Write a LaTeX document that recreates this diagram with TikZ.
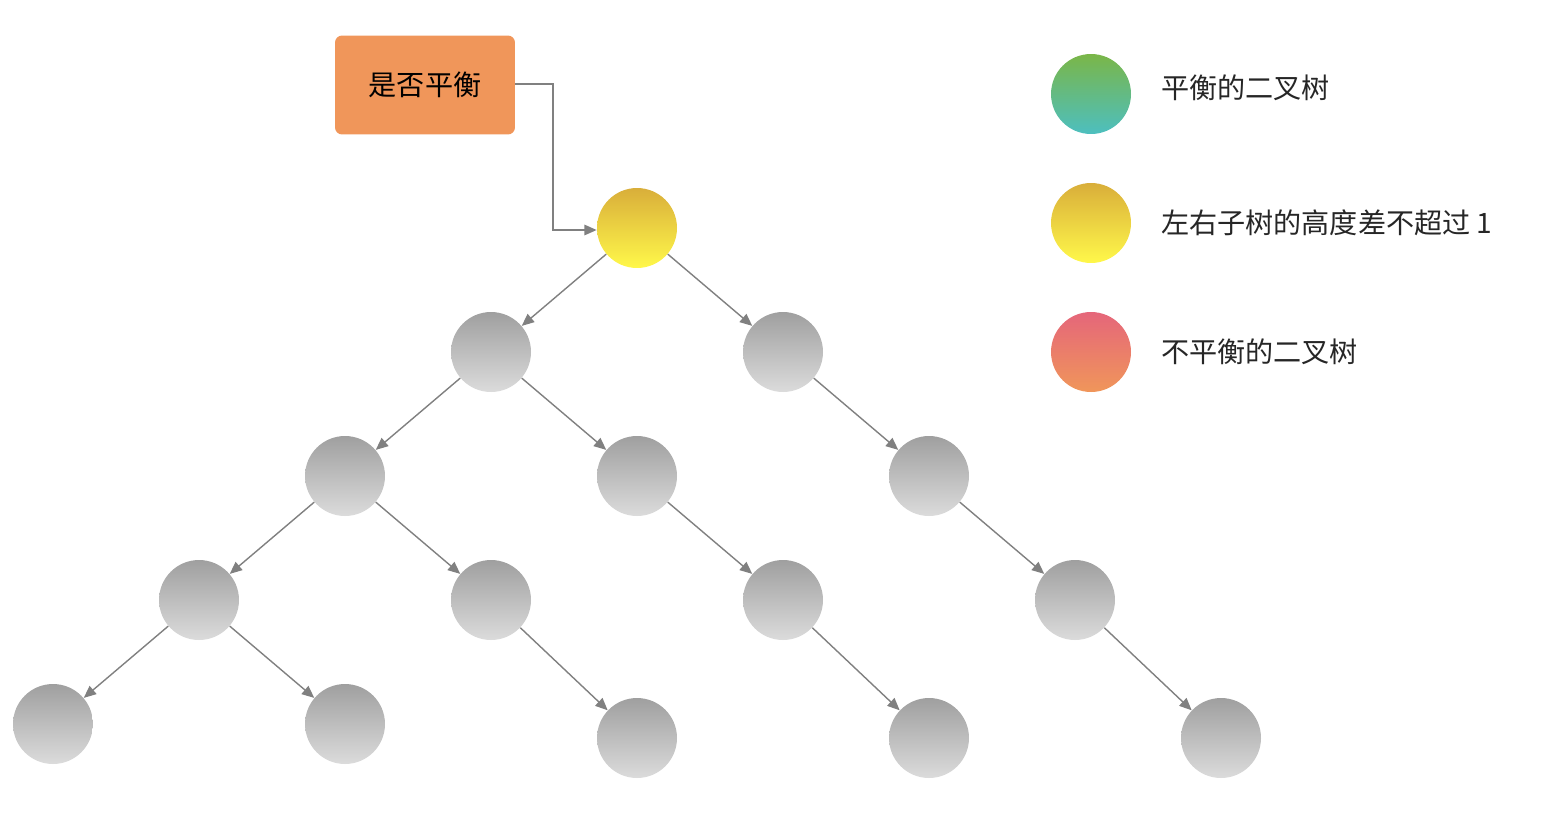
\documentclass[tikz,border=0pt]{standalone}
\usepackage{fontspec}
\setmainfont{Noto Sans CJK SC}
\usetikzlibrary{arrows.meta}
\definecolor{edge}{HTML}{808080}
\begin{document}
\begin{tikzpicture}[x=0.02cm,y=-0.02cm,
  tn/.style={circle,minimum size=1.6cm,inner sep=0pt,top color=gray!75,bottom color=gray!28},
  ar/.style={draw=edge,line width=0.8pt,-{Triangle[length=7pt,width=6pt]}},
  lg/.style={anchor=west,font=\fontsize{16}{18}\selectfont,text=black!85}]
\useasboundingbox (0,0) rectangle (1554,832);
\node[fill={rgb,255:red,240;green,150;blue,90},rounded corners=4pt,minimum width=3.6cm,minimum height=1.98cm,font=\fontsize{16}{18}\selectfont] (box) at (425,85) {是否平衡};
\node[circle,minimum size=1.6cm,inner sep=0pt,top color={rgb,255:red,217;green,174;blue,58},bottom color={rgb,255:red,255;green,248;blue,74}] (r) at (637,228) {};
\node[tn] (a) at (491,352) {};
\node[tn] (b) at (783,352) {};
\node[tn] (c) at (345,476) {};
\node[tn] (d) at (637,476) {};
\node[tn] (e) at (929,476) {};
\node[tn] (f) at (199,600) {};
\node[tn] (g) at (491,600) {};
\node[tn] (h) at (783,600) {};
\node[tn] (i) at (1075,600) {};
\node[tn] (j) at (53,724) {};
\node[tn] (k) at (345,724) {};
\node[tn] (l) at (637,738) {};
\node[tn] (m) at (929,738) {};
\node[tn] (n) at (1221,738) {};
\foreach \s/\t in {r/a,r/b,a/c,a/d,b/e,c/f,c/g,d/h,e/i,f/j,f/k,g/l,h/m,i/n}
  \draw[ar] (\s) -- (\t);
\coordinate (p1) at (553,84);
\coordinate (p2) at (553,230);
\draw[ar] (box.east |- p1) -- (p1) -- (p2) -- (r.west |- p2);
\node[circle,minimum size=1.6cm,inner sep=0pt,top color={rgb,255:red,122;green,182;blue,72},bottom color={rgb,255:red,77;green,191;blue,191}] (l1) at (1091,94) {};
\node[circle,minimum size=1.6cm,inner sep=0pt,top color={rgb,255:red,217;green,174;blue,58},bottom color={rgb,255:red,255;green,248;blue,74}] (l2) at (1091,223) {};
\node[circle,minimum size=1.6cm,inner sep=0pt,top color={rgb,255:red,229;green,102;blue,122},bottom color={rgb,255:red,240;green,150;blue,90}] (l3) at (1091,352) {};
\node[lg] (t1) at (1155,88) {平衡的二叉树};
\node[lg] (t2) at (1155,223) {左右子树的高度差不超过 1};
\node[lg] (t3) at (1155,352) {不平衡的二叉树};
\end{tikzpicture}
\end{document}
